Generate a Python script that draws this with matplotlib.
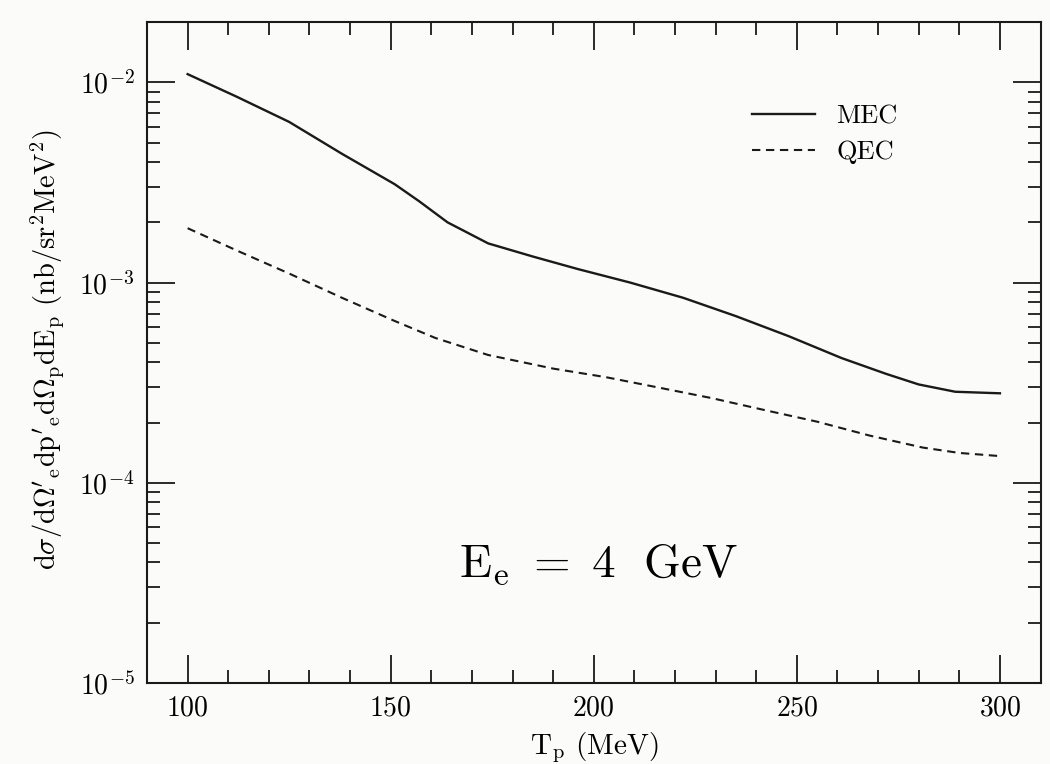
import matplotlib
matplotlib.use("Agg")
import matplotlib.pyplot as plt
from matplotlib.ticker import MultipleLocator, LogLocator, NullFormatter

plt.rcParams['mathtext.fontset'] = 'cm'
plt.rcParams['font.family'] = 'serif'
plt.rcParams['font.serif'] = ['cmr10', 'DejaVu Serif']
plt.rcParams['axes.formatter.use_mathtext'] = True

# MEC curve (solid)
mec_t = [100, 112, 125, 138, 151, 157, 164, 174, 185, 196, 209, 222, 235, 248, 261, 272, 280, 289, 300]
mec = [1.10e-2, 8.5e-3, 6.35e-3, 4.4e-3, 3.1e-3, 2.55e-3, 2.0e-3, 1.57e-3, 1.35e-3, 1.17e-3,
       1.0e-3, 8.4e-4, 6.8e-4, 5.4e-4, 4.2e-4, 3.5e-4, 3.1e-4, 2.85e-4, 2.8e-4]

# QEC curve (dashed)
qec_t = [100, 112, 125, 138, 151, 161, 174, 190, 203, 216, 229, 242, 255, 268, 281, 290, 300]
qec = [1.87e-3, 1.45e-3, 1.11e-3, 8.4e-4, 6.43e-4, 5.29e-4, 4.35e-4, 3.72e-4, 3.37e-4, 2.99e-4,
       2.65e-4, 2.31e-4, 2.02e-4, 1.72e-4, 1.50e-4, 1.41e-4, 1.36e-4]

fig = plt.figure(figsize=(10.5, 7.64), dpi=100, facecolor='#fbfbf9')
ax = fig.add_axes([0.14, 0.106, 0.851, 0.865])
ax.set_facecolor('#fbfbf9')

ax.plot(mec_t, mec, color='#1a1a1a', lw=1.7, label='MEC')
ax.plot(qec_t, qec, color='#1a1a1a', lw=1.5, linestyle=(0, (4, 2.7)), label='QEC')

ax.set_yscale('log')
ax.set_xlim(90, 310)
ax.set_ylim(1e-5, 2e-2)

ax.xaxis.set_major_locator(MultipleLocator(50))
ax.xaxis.set_minor_locator(MultipleLocator(10))
ax.yaxis.set_major_locator(LogLocator(base=10, numticks=10))
ax.yaxis.set_minor_locator(LogLocator(base=10, subs=range(2, 10), numticks=20))
ax.yaxis.set_minor_formatter(NullFormatter())

ax.tick_params(which='both', direction='in', top=True, right=True, width=1.3, color='#1a1a1a')
ax.tick_params(which='major', length=20, labelsize=20, pad=9)
ax.tick_params(which='minor', length=9.5)
for s in ax.spines.values():
    s.set_linewidth(1.5)
    s.set_color('#1a1a1a')

ax.set_xlabel(r'T$_{\rm p}$ (MeV)', fontsize=21, labelpad=6)
fig.text(48 / 1050, 1 - 350 / 764,
         r"$\mathrm{d}\sigma/\mathrm{d}\Omega'_{\rm e}\mathrm{dp}'_{\rm e}\mathrm{d}\Omega_{\rm p}\mathrm{dE}_{\rm p}$"
         r" (nb/sr$^2$MeV$^2$)",
         rotation=90, ha='center', va='center', fontsize=20.5)

ax.text(201, 3.9e-5, r'$\mathrm{E}_{\rm e}\ =\ 4\ \ \mathrm{GeV}$', fontsize=34, ha='center', va='center')

leg = ax.legend(loc='upper left', bbox_to_anchor=(752 / 1050, 1 - 105 / 764),
                bbox_transform=fig.transFigure, frameon=False, fontsize=19,
                handlelength=2.4, handletextpad=0.8, labelspacing=0.45,
                borderpad=0, borderaxespad=0)

fig.savefig('out.png', dpi=100, facecolor=fig.get_facecolor())
